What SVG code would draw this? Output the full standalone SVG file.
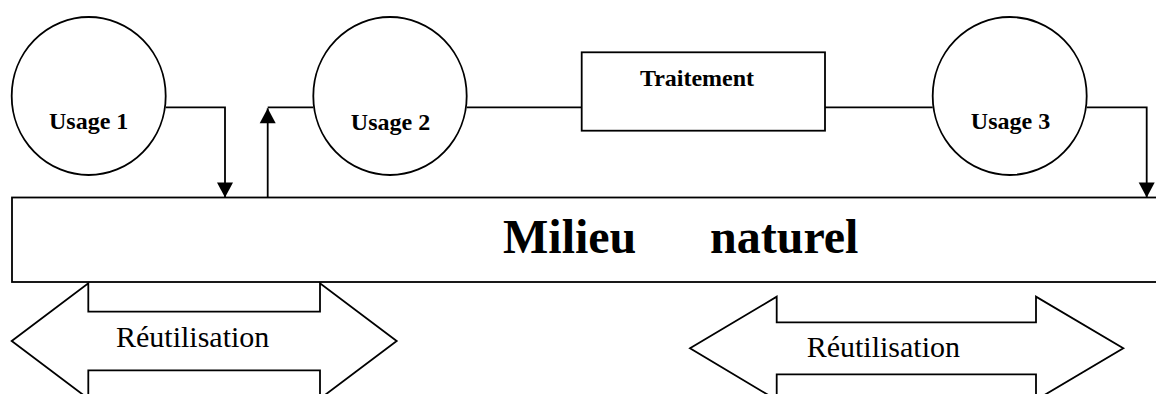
<svg xmlns="http://www.w3.org/2000/svg" width="1156" height="394" viewBox="0 0 1156 394">
<style>
.shape{fill:#fff;stroke:#000;stroke-width:1.8}
.conn{fill:none;stroke:#000;stroke-width:1.8}
.lbl{font-family:"Liberation Serif","Times New Roman",serif;font-weight:bold;font-size:24px;fill:#000}
.big{font-family:"Liberation Serif","Times New Roman",serif;font-weight:bold;font-size:48px;fill:#000}
.reu{font-family:"Liberation Serif","Times New Roman",serif;font-size:30px;fill:#000}
</style>
<defs>
<marker id="ah" markerUnits="userSpaceOnUse" markerWidth="16" markerHeight="16" refX="15" refY="8" orient="auto" overflow="visible">
<path d="M0,0 L15,8 L0,16 Z" fill="#000"/>
</marker>
</defs>
<rect width="1156" height="394" fill="#fff"/>
<g id="milieu">
<rect class="shape" x="12" y="197.5" width="1150" height="84.5"/>
<text class="big" x="503" y="253">Milieu<tspan x="710">naturel</tspan></text>
</g>
<g id="reutilisation1">
<polygon class="shape" points="11.7,341 88.3,283.3 88.3,311.7 320,311.7 320,283.3 396.7,341 320,398.7 320,370.3 88.3,370.3 88.3,398.7"/>
<text class="reu" x="116" y="346.7">Réutilisation</text>
</g>
<g id="reutilisation2">
<polygon class="shape" points="690,348.3 776.7,296.7 776.7,322.3 1036,322.3 1036,296.7 1123.3,348.3 1036,400 1036,374.3 776.7,374.3 776.7,400"/>
<text class="reu" x="806.7" y="356.7">Réutilisation</text>
</g>
<g id="connectors">
<polyline class="conn" points="165.7,107.3 225,107.3 225,197.5" marker-end="url(#ah)"/>
<polyline class="conn" points="313.3,107.3 267.7,107.3" />
<line class="conn" x1="267.7" y1="197.5" x2="267.7" y2="108.3" marker-end="url(#ah)"/>
<line class="conn" x1="466.7" y1="107.3" x2="581.7" y2="107.3"/>
<line class="conn" x1="825" y1="107.3" x2="932.7" y2="107.3"/>
<polyline class="conn" points="1086.7,107.3 1146.7,107.3 1146.7,197.5" marker-end="url(#ah)"/>
</g>
<g id="usage1">
<ellipse class="shape" cx="88.7" cy="96" rx="77" ry="79"/>
<text class="lbl" x="88.7" y="129" text-anchor="middle">Usage 1</text>
</g>
<g id="usage2">
<ellipse class="shape" cx="390" cy="96" rx="76.7" ry="79"/>
<text class="lbl" x="390.5" y="130" text-anchor="middle">Usage 2</text>
</g>
<g id="traitement">
<rect class="shape" x="581.7" y="52.3" width="243.3" height="78.4"/>
<text class="lbl" x="697" y="86" text-anchor="middle">Traitement</text>
</g>
<g id="usage3">
<ellipse class="shape" cx="1009.7" cy="96" rx="77" ry="79"/>
<text class="lbl" x="1010.5" y="129.3" text-anchor="middle">Usage 3</text>
</g>
</svg>
